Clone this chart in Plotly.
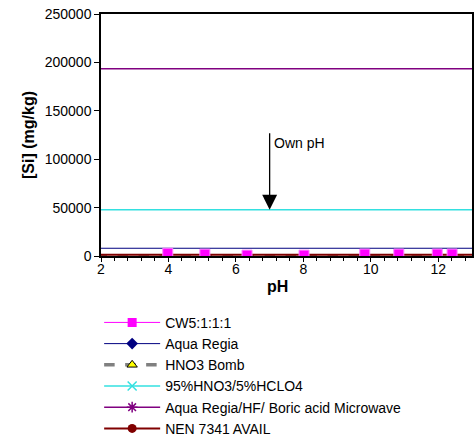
import plotly.graph_objects as go

# ---- data ----
cw5_ph = [3.98, 5.08, 6.33, 8.02, 9.82, 10.83, 11.97, 12.41]
cw5_si = [2800, 1900, 900, 900, 2000, 2000, 2000, 2000]

line_ph = [0, 15]  # horizontal reference levels (total digestions), span beyond axis
aqua_regia = [8000, 8000]
hno3_bomb = [300, 300]
hno3_hclo4 = [47800, 47800]
ar_hf_boric = [193500, 193500]
nen7341 = [1300, 1300]

own_ph = 7.0
arrow_top = 128400
arrow_tip = 47800
label_y = 116700

x_ticks = [2, 4, 6, 8, 10, 12]
y_ticks = [0, 50000, 100000, 150000, 200000, 250000]

FONT = "Liberation Sans, Arial, sans-serif"

fig = go.Figure()

fig.add_trace(go.Scatter(x=line_ph, y=aqua_regia, name="Aqua Regia", mode="lines+markers",
                         line=dict(color="#000080", width=1),
                         marker=dict(symbol="diamond", size=9, color="#000080"), legendrank=2))
fig.add_trace(go.Scatter(x=line_ph, y=hno3_bomb, name="HNO3 Bomb", mode="lines+markers",
                         line=dict(color="#808080", width=3.5, dash="dash"),
                         marker=dict(symbol="triangle-up", size=9, color="#FFFF00",
                                     line=dict(color="black", width=1)), legendrank=3))
fig.add_trace(go.Scatter(x=line_ph, y=hno3_hclo4, name="95%HNO3/5%HCLO4", mode="lines+markers",
                         line=dict(color="#33E0E0", width=1.5),
                         marker=dict(symbol="x-thin-open", size=9, color="#33E0E0",
                                     line=dict(color="#33E0E0", width=1.5)), legendrank=4))
fig.add_trace(go.Scatter(x=line_ph, y=ar_hf_boric, name="Aqua Regia/HF/ Boric acid Microwave",
                         mode="lines+markers",
                         line=dict(color="#800080", width=1.5),
                         marker=dict(symbol="asterisk-open", size=9, color="#800080",
                                     line=dict(color="#800080", width=1.5)), legendrank=5))
fig.add_trace(go.Scatter(x=line_ph, y=nen7341, name="NEN 7341 AVAIL", mode="lines+markers",
                         line=dict(color="#800000", width=2),
                         marker=dict(symbol="circle", size=9, color="#800000"), legendrank=6))
fig.add_trace(go.Scatter(x=cw5_ph, y=cw5_si, name="CW5:1:1:1", mode="markers",
                         marker=dict(symbol="square", size=10, color="#FF00FF",
                                     line=dict(color="#FF80FF", width=1)),
                         showlegend=False))
fig.add_trace(go.Scatter(x=[None], y=[None], name="CW5:1:1:1", mode="lines+markers",
                         line=dict(color="#FF00FF", width=1),
                         marker=dict(symbol="square", size=9, color="#FF00FF"), legendrank=1))

fig.add_annotation(x=own_ph, y=arrow_tip, ax=own_ph, ay=arrow_top, axref="x", ayref="y",
                   xref="x", yref="y", text="", showarrow=True, arrowhead=2,
                   arrowsize=2.3, arrowwidth=1.3, arrowcolor="black")
fig.add_annotation(x=own_ph, y=label_y, xref="x", yref="y", text="Own pH", showarrow=False,
                   xanchor="left", xshift=2, font=dict(size=14, color="black", family=FONT))
fig.add_annotation(x=0.477, y=-0.128, xref="paper", yref="paper", text="<b>pH</b>",
                   showarrow=False, xanchor="center", yanchor="middle",
                   font=dict(size=16, color="black", family=FONT))

fig.update_xaxes(range=[2, 13], tickvals=x_ticks, showline=True, linecolor="black", linewidth=1.5,
                 mirror=True, ticks="outside", ticklen=4, tickcolor="black", showgrid=False,
                 zeroline=False, automargin=False, ticklabelstandoff=-5,
                 tickfont=dict(size=14, family=FONT, color="black"),
                 minor=dict(dtick=0.4, ticks="outside", ticklen=3, tickcolor="black"))
fig.update_yaxes(range=[0, 250000], tickvals=y_ticks, tickformat="d", showline=True,
                 linecolor="black", automargin=False,
                 linewidth=1.5, mirror=True, ticks="outside", ticklen=5, tickcolor="black",
                 showgrid=False, zeroline=False,
                 tickfont=dict(size=14, family=FONT, color="black"),
                 title=dict(text="<b>[Si] (mg/kg)</b>", font=dict(size=16, family=FONT, color="black"),
                            standoff=6))

fig.update_layout(
    width=475, height=441,
    margin=dict(l=101, r=3, t=14, b=185, autoexpand=False),
    plot_bgcolor="white", paper_bgcolor="white",
    font=dict(family=FONT, color="black"),
    legend=dict(x=-0.005, y=-0.21, xanchor="left", yanchor="top", orientation="v",
                font=dict(size=14, family=FONT, color="black"),
                bgcolor="rgba(0,0,0,0)", itemwidth=56, tracegroupgap=0),
)

fig.write_html("out.html", config={"displayModeBar": False},
               post_script="document.body.style.margin='0';document.body.style.overflow='hidden';")
